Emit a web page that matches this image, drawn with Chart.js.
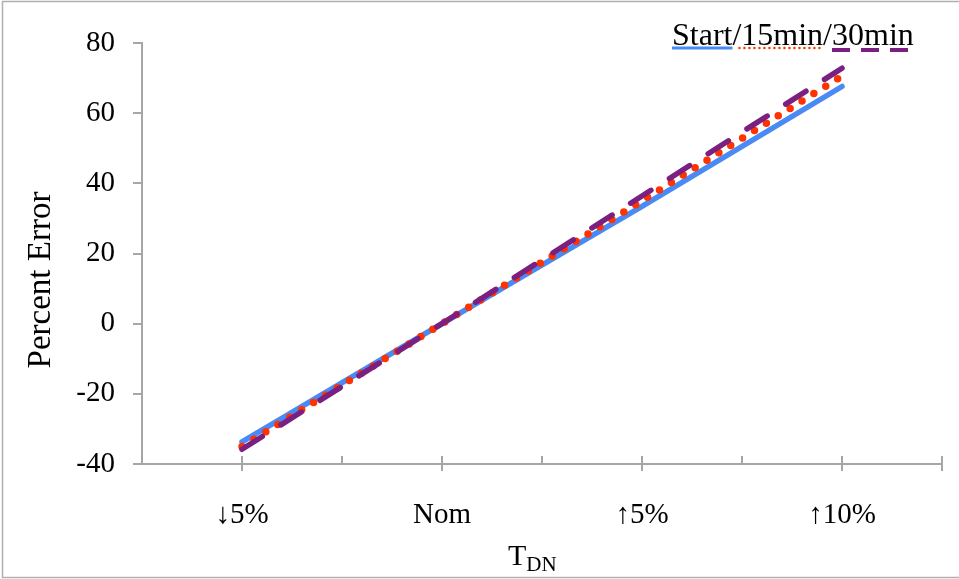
<!DOCTYPE html>
<html>
<head>
<meta charset="utf-8">
<script src="https://cdn.jsdelivr.net/npm/chart.js@4.4.1/dist/chart.umd.min.js"></script>
<style>
  html, body { margin: 0; padding: 0; background: #fff; }
  #wrap { width: 959px; height: 579px; position: relative; }
</style>
</head>
<body>
<div id="wrap"><canvas id="errChart"></canvas></div>
<script>
/* ── data ── */
var tdnSteps    = [-5, 0, 5, 10];
var tickLabels  = ['↓5%', 'Nom', '↑5%', '↑10%'];
var seriesNames = ['Start', '15min', '30min'];
var startErr    = [-33.7, 0, 33.4, 67.6];
var min15Err    = [-35.0, 0, 35.0, 70.6];
var min30Err    = [-35.8, 0, 36.4, 72.8];
var yTickStep   = 20;

/* ── styles ── */
var SERIF = '"Liberation Serif", "DejaVu Serif", serif';
var AXIS  = '#a6a6a6';
var COL   = { start: '#4a8af4', m15: '#ff3300', m30: '#7b1f80' };

function pts(ys) {
    return tdnSteps.map(function (x, i) { return { x: x, y: ys[i] }; });
}

/* frame, x ticks, axis titles, legend */
var decor = {
    id: 'decor',
    beforeDraw: function (chart) {
        var c = chart.ctx;
        c.save();
        c.fillStyle = '#fff';
        c.fillRect(0, 0, chart.width, chart.height);
        c.strokeStyle = '#b0b0b0';
        c.lineWidth = 1.5;
        c.strokeRect(2.5, 1.5, chart.width + 4, chart.height - 3);
        c.restore();
    },
    afterDraw: function (chart) {
        var c = chart.ctx, xs = chart.scales.x, a = chart.chartArea;
        c.save();

        // x tick marks: inside everywhere, crossing under labels
        c.strokeStyle = AXIS; c.lineWidth = 2;
        xs.ticks.forEach(function (t, i) {
            var px = Math.round(xs.getPixelForValue(t.value));
            var lab = tdnSteps.indexOf(t.value) >= 0 || i === xs.ticks.length - 1;
            c.beginPath();
            c.moveTo(px, a.bottom - 8);
            c.lineTo(px, lab ? a.bottom + 7 : a.bottom);
            c.stroke();
        });

        c.fillStyle = '#000';
        c.textAlign = 'left';
        c.textBaseline = 'alphabetic';

        // y title
        c.save();
        c.translate(50, 280);
        c.rotate(-Math.PI / 2);
        c.textAlign = 'center';
        c.font = '33px ' + SERIF;
        c.fillText('Percent Error', 0, 0);
        c.restore();

        // x title T_DN
        c.font = '30px ' + SERIF;
        var tx = 508;
        c.fillText('T', tx, 565);
        var tw = c.measureText('T').width;
        c.font = '21px ' + SERIF;
        c.fillText('DN', tx + tw, 571);

        // legend "Start/15min/30min" with samples under each name
        c.font = '32px ' + SERIF;
        var lx = 672, ly = 45;
        var legendText = seriesNames.join('/');
        c.fillText(legendText, lx, ly);
        var w0 = c.measureText(seriesNames[0]).width;
        var w1 = c.measureText('/' + seriesNames[1] + '/').width;
        var w2 = c.measureText(seriesNames[2]).width;

        c.lineWidth = 3; c.strokeStyle = COL.start; c.setLineDash([]);
        c.beginPath(); c.moveTo(lx, ly + 3); c.lineTo(lx + w0, ly + 3); c.stroke();

        c.lineWidth = 2.5; c.strokeStyle = COL.m15; c.lineCap = 'round'; c.setLineDash([0, 5]);
        c.beginPath(); c.moveTo(lx + w0 + 7, ly + 3); c.lineTo(lx + w0 + w1 - 9, ly + 3); c.stroke();

        c.lineWidth = 4; c.strokeStyle = COL.m30; c.lineCap = 'butt'; c.setLineDash([18, 11]);
        c.beginPath(); c.moveTo(lx + w0 + w1, ly + 5); c.lineTo(lx + w0 + w1 + w2, ly + 5); c.stroke();

        c.restore();
    }
};

new Chart(document.getElementById('errChart'), {
    type: 'line',
    data: {
        datasets: [
            { label: seriesNames[0], data: pts(startErr), order: 3,
              borderColor: COL.start, borderWidth: 5.5, borderCapStyle: 'round' },
            { label: seriesNames[1], data: pts(min15Err), order: 2,
              borderColor: COL.m15, borderWidth: 7.5, borderCapStyle: 'round', borderDash: [0, 14] },
            { label: seriesNames[2], data: pts(min30Err), order: 1,
              borderColor: COL.m30, borderWidth: 5.5, borderCapStyle: 'round', borderDash: [24, 22] }
        ]
    },
    options: {
        responsive: true,
        maintainAspectRatio: false,
        animation: false,
        devicePixelRatio: 1,
        layout: { padding: { top: 43, right: 17, left: 0, bottom: 0 } },
        elements: { point: { radius: 0, hoverRadius: 0 }, line: { tension: 0, fill: false } },
        plugins: { legend: { display: false }, tooltip: { enabled: false } },
        scales: {
            x: {
                type: 'linear', min: -7.5, max: 12.5,
                afterFit: function (s) { s.height = 115; s.paddingLeft = 0; s.paddingRight = 0; },
                grid: { display: false, drawTicks: false },
                border: { display: true, color: AXIS, width: 2 },
                ticks: {
                    stepSize: 2.5, autoSkip: false, maxRotation: 0, padding: 34,
                    color: '#000', font: { family: SERIF, size: 29 },
                    callback: function (v) {
                        var i = tdnSteps.indexOf(v);
                        return i >= 0 ? tickLabels[i] : '';
                    }
                }
            },
            y: {
                min: -40, max: 80,
                afterFit: function (s) { s.width = 142; s.paddingTop = 0; s.paddingBottom = 0; },
                grid: { drawOnChartArea: false, drawTicks: true, tickLength: 9, color: AXIS, lineWidth: 2 },
                border: { display: true, color: AXIS, width: 2 },
                ticks: {
                    stepSize: yTickStep, padding: 18,
                    color: '#000', font: { family: SERIF, size: 29 }
                }
            }
        }
    },
    plugins: [decor]
});
</script>
</body>
</html>
